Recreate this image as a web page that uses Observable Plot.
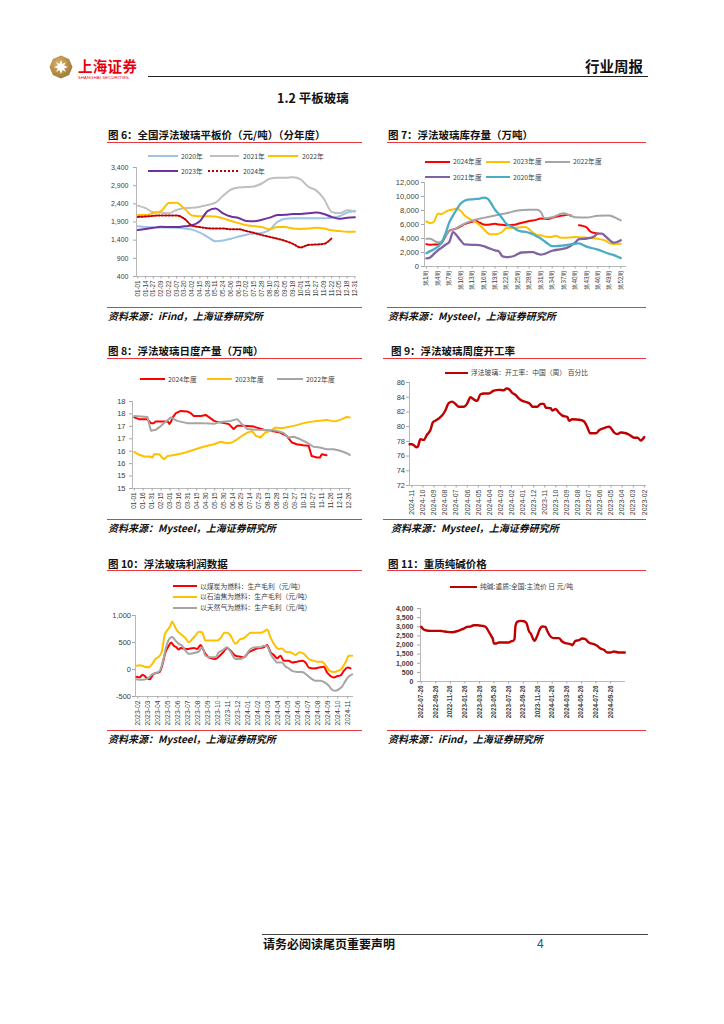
<!DOCTYPE html>
<html><head><meta charset="utf-8">
<script src="https://cdn.jsdelivr.net/npm/d3@7"></script>
<script src="https://cdn.jsdelivr.net/npm/@observablehq/plot@0.6"></script>
<style>
body{margin:0;background:#fff;}
#page{position:relative;width:724px;height:1024px;overflow:hidden;background:#fff;font-family:"Noto Sans CJK SC","Noto Sans",sans-serif;}
.a{position:absolute;white-space:nowrap;}
.title{font-size:10.5px;font-weight:700;color:#111;}
.src{font-size:10px;font-weight:700;font-style:italic;color:#111;}
.lg{font-size:6.8px;color:#404040;}
.c11 text{font-weight:700;}
svg{overflow:visible;}
</style></head>
<body><div id="page"></div>
<script>
// ---------- DATA ----------
// Chart 6: flat glass price by year (元/吨), x = label index
const labels6 = ["01-01","01-14","01-27","02-09","02-22","03-07","03-20","04-02","04-15","04-28","05-11","05-24","06-06","06-19","07-02","07-15","07-28","08-10","08-23","09-05","09-18","10-01","10-14","10-27","11-09","11-22","12-05","12-18","12-31"];
const price2020 = [1780,1760,1750,1750,1750,1740,1720,1690,1610,1490,1370,1390,1440,1500,1550,1580,1600,1680,1900,1990,2000,2000,2000,2000,2000,2020,2060,2160,2210];
const price2021 = [2350,2280,2170,2160,2140,2230,2280,2290,2320,2370,2430,2620,2790,2850,2860,2880,2960,3090,3120,3120,3130,3070,2870,2770,2540,2180,2140,2220,2180];
const price2022 = [2090,2090,2150,2200,2420,2430,2270,2080,2060,2060,2050,2000,1930,1870,1810,1790,1760,1700,1760,1760,1720,1710,1720,1740,1720,1670,1650,1630,1630];
const price2023 = [1680,1710,1740,1770,1760,1760,1780,1810,1920,2200,2270,2140,2050,2010,1930,1920,1960,2020,2090,2100,2120,2120,2140,2160,2120,2040,1990,2020,2030];
const price2024 = [2040,2050,2070,2080,2080,2080,1990,1800,1760,1730,1720,1720,1700,1700,1650,1600,1540,1490,1440,1380,1300,1200,1270,1280,1300,1450,null,null,null];
const yTicks6 = [400,900,1400,1900,2400,2900,3400];

// Chart 7: inventory (万吨) by week, [week, value]
const weekTicks7 = [1,4,7,10,13,16,19,22,25,28,31,34,37,40,43,46,49,52];
const inv2024 = [[1,3200],[2,3100],[3,3150],[4,3150],[5,3400],[6,4300],[7,5100],[8,5300],[9,5450],[10,5750],[11,6050],[12,6250],[13,6400],[14,6500],[15,6250],[16,6000],[17,5950],[18,6050],[19,6100],[20,6000],[21,5950],[22,5900],[24,5950],[25,6100],[28,6500],[30,6700],[31,6850],[33,6800],[34,6950],[36,7200],[37,7300],[38,7400],[39,7250],[40,null],[41,5900],[42,5800],[43,5600],[44,5000],[45,4800],[46,4700]];
const inv2023 = [[1,6450],[2,6200],[3,6400],[4,7550],[5,7500],[6,7800],[7,8050],[8,8150],[9,8300],[10,7950],[11,7300],[12,6900],[13,6600],[14,6300],[15,5900],[16,5400],[17,4800],[18,4600],[19,4600],[20,4700],[21,5000],[22,5500],[24,5500],[25,5550],[27,5650],[28,5300],[29,4800],[30,4500],[31,4450],[32,4300],[33,4200],[34,4250],[35,4400],[36,4150],[37,4100],[40,4200],[43,4100],[46,3950],[48,3700],[49,3350],[50,3200],[52,3250]];
const inv2022 = [[1,3950],[2,3950],[3,3700],[4,3450],[5,3600],[6,4400],[7,5100],[8,5250],[10,5850],[13,6550],[16,6950],[19,7300],[22,7600],[25,8000],[28,8100],[30,8100],[31,7800],[32,6900],[34,7050],[37,7600],[38,7450],[40,7050],[43,7000],[46,7250],[49,7300],[50,7100],[52,6600]];
const inv2021 = [[1,1150],[2,1300],[3,1800],[4,2300],[5,2700],[6,3100],[7,3500],[8,4900],[9,4400],[10,3700],[11,3150],[13,3100],[14,3100],[16,2900],[17,2700],[18,2500],[19,2300],[20,2150],[21,1450],[22,1350],[24,1500],[25,1800],[26,2000],[28,2050],[29,2050],[30,1850],[31,1700],[32,1800],[34,2250],[36,2450],[37,2550],[38,2700],[40,3400],[41,3900],[43,4000],[45,4300],[46,4700],[47,4700],[48,4300],[49,3800],[50,3400],[51,3500],[52,3750]];
const inv2020 = [[1,1900],[2,2200],[3,2450],[4,2850],[5,3400],[6,4700],[7,6300],[8,7300],[9,8200],[10,9000],[11,9400],[12,9550],[13,9600],[14,9650],[15,9700],[16,9850],[17,9700],[18,9000],[19,8100],[20,7500],[21,6800],[22,6100],[23,5800],[24,5500],[25,5150],[26,5000],[27,4950],[28,4800],[29,4600],[30,4300],[31,4000],[32,3600],[33,3200],[34,2900],[35,2900],[37,3000],[40,3250],[41,3300],[43,2850],[46,2400],[48,2000],[49,1800],[50,1650],[52,1200]];
const yTicks7 = [0,2000,4000,6000,8000,10000,12000];

// Chart 8: daily output (万吨), [day of year, value]
const labels8 = ["01-01","01-16","01-31","02-15","03-01","03-16","03-31","04-15","04-30","05-15","05-30","06-14","06-29","07-14","07-29","08-13","08-28","09-12","09-27","10-12","10-27","11-11","11-26","12-11","12-26"];
const prod2024 = [[0,17.36],[8,17.29],[22,17.29],[28,17.13],[33,17.13],[36,17.2],[56,17.2],[59,17.1],[62,17.2],[64,17.34],[70,17.53],[78,17.62],[89,17.6],[95,17.53],[100,17.42],[112,17.42],[120,17.46],[125,17.38],[134,17.22],[139,17.18],[151,17.13],[159,17.09],[167,16.89],[173,17.02],[184,17.02],[201,16.99],[206,16.95],[215,16.89],[223,16.82],[234,16.8],[245,16.75],[256,16.62],[265,16.35],[273,16.28],[284,16.24],[293,16.22],[298,15.81],[307,15.75],[312,15.75],[315,15.88],[323,15.84]];
const prod2023 = [[0,15.97],[6,15.88],[17,15.79],[25,15.79],[31,15.75],[33,15.88],[42,15.88],[45,15.79],[50,15.68],[56,15.81],[67,15.85],[81,15.92],[89,15.97],[100,16.06],[112,16.15],[123,16.22],[134,16.28],[145,16.38],[156,16.32],[164,16.35],[173,16.48],[181,16.62],[190,16.75],[198,16.82],[204,16.62],[212,16.55],[220,16.75],[229,16.82],[237,16.95],[245,16.92],[254,16.95],[262,16.99],[273,17.05],[284,17.13],[296,17.18],[307,17.22],[324,17.26],[335,17.2],[340,17.22],[349,17.29],[357,17.38],[362,17.36]];
const prod2022 = [[0,17.42],[22,17.38],[28,16.82],[36,16.86],[45,17.02],[61,17.36],[72,17.22],[89,17.13],[112,17.13],[134,17.1],[145,17.18],[162,17.22],[173,17.29],[181,17.09],[190,16.89],[206,16.86],[223,16.85],[240,16.82],[251,16.73],[259,16.55],[268,16.58],[279,16.48],[290,16.35],[301,16.18],[312,16.15],[323,16.08],[335,16.08],[346,16.02],[357,15.92],[362,15.85]];
const yTicks8 = [14.5,15,15.5,16,16.5,17,17.5,18];

// Chart 9: operating rate (%), [months back from 2024-11, value]
const labels9 = ["2024-11","2024-10","2024-09","2024-08","2024-07","2024-06","2024-05","2024-04","2024-03","2024-02","2024-01","2023-12","2023-11","2023-10","2023-09","2023-08","2023-07","2023-06","2023-05","2023-04","2023-03","2023-02"];
const rate = [[-0.21,77.6],[0,77.6],[0.15,77.5],[0.39,77.2],[0.54,77.3],[0.76,78.3],[1.06,78.2],[1.36,78.9],[1.66,79.5],[1.9,80.6],[2.11,80.8],[2.42,81.1],[2.72,81.5],[3.02,82.2],[3.32,83.2],[3.63,83.4],[3.93,83.1],[4.23,82.7],[4.68,82.7],[4.98,83.1],[5.29,84.0],[5.59,83.7],[5.89,83.5],[6.19,84.4],[6.5,84.5],[6.95,84.5],[7.4,84.9],[7.85,85.0],[8.31,84.95],[8.55,85.2],[8.76,85.1],[9.06,84.6],[9.37,84.3],[9.67,83.8],[9.97,83.5],[10.42,83.3],[10.73,83.0],[10.88,82.7],[11.33,82.7],[11.63,83.1],[11.93,83.1],[12.08,82.6],[12.54,82.5],[12.69,82.2],[12.99,82.4],[13.29,81.9],[13.6,81.5],[14.05,81.3],[14.2,80.8],[14.5,81.0],[15.26,80.9],[15.56,80.7],[15.86,79.9],[16.1,79.1],[16.62,79.1],[16.92,79.5],[17.37,79.8],[17.82,80.0],[17.98,79.8],[18.28,79.2],[18.58,79.0],[18.88,79.2],[19.34,79.1],[19.64,78.9],[20.09,78.5],[20.39,78.5],[20.69,78.1],[20.85,78.3],[21.0,78.6]];
const yTicks9 = [72,74,76,78,80,82,84,86];

// Chart 10: gross profit (元/吨), [months since 2023-02, value]
const labels10 = ["2023-02","2023-03","2023-04","2023-05","2023-06","2023-07","2023-08","2023-09","2023-10","2023-11","2023-12","2024-01","2024-02","2024-03","2024-04","2024-05","2024-06","2024-07","2024-08","2024-09","2024-10","2024-11"];
const profitCoal = [[-0.13,-135],[0.2,-145],[0.43,-100],[0.67,-115],[0.93,-165],[1.2,-180],[1.53,-90],[1.93,-60],[2.2,-45],[2.43,70],[2.77,320],[3.1,440],[3.33,500],[3.6,440],[3.87,410],[4.1,370],[4.27,400],[4.6,390],[4.93,380],[5.6,400],[5.93,380],[6.27,455],[6.43,410],[6.77,290],[7.27,210],[7.77,195],[8.27,270],[8.6,330],[8.93,400],[9.27,350],[9.77,255],[10.27,235],[10.6,225],[11.1,320],[11.43,350],[11.77,380],[12.27,400],[12.6,410],[12.93,455],[13.27,320],[13.6,270],[13.93,210],[14.27,255],[14.6,160],[15.1,160],[15.43,130],[15.93,145],[16.43,160],[16.77,130],[17.1,35],[17.6,20],[18.1,35],[18.6,50],[18.93,-55],[19.27,-120],[19.6,-150],[20,-120],[20.27,-110],[20.6,-25],[21,35],[21.27,20]];
const profitCoke = [[-0.13,70],[0.2,80],[0.6,55],[1.1,40],[1.43,100],[1.77,195],[2.2,255],[2.43,350],[2.67,630],[2.93,720],[3.27,815],[3.43,890],[3.67,810],[3.93,720],[4.27,660],[4.77,580],[5.1,505],[5.43,560],[5.77,630],[6.1,700],[6.43,690],[6.77,535],[7.27,535],[7.93,535],[8.27,580],[8.67,680],[8.93,680],[9.27,630],[9.77,475],[10.2,555],[10.6,580],[10.93,630],[11.27,680],[11.77,680],[12.27,680],[12.6,700],[12.93,740],[13.27,600],[13.6,475],[14.1,380],[14.43,390],[14.77,330],[15.27,320],[15.77,270],[16.2,320],[16.6,290],[17.1,195],[17.6,160],[17.93,145],[18.43,145],[18.77,80],[19.2,-25],[19.6,-45],[20,-25],[20.33,5],[20.77,130],[21.1,255],[21.43,255]];
const profitGas = [[-0.13,-180],[0.27,-190],[0.77,-180],[1.1,-150],[1.43,-90],[1.77,-70],[2.2,-25],[2.53,165],[2.83,410],[3.2,580],[3.43,600],[3.77,535],[4.1,475],[4.43,440],[4.77,350],[5.1,290],[5.6,305],[6.1,330],[6.43,410],[6.77,255],[7.27,225],[7.77,225],[8.1,320],[8.43,350],[8.93,410],[9.27,330],[9.77,195],[10.27,195],[10.77,255],[11.27,380],[11.77,410],[12.27,410],[12.6,440],[12.93,430],[13.27,290],[13.6,195],[13.93,130],[14.43,130],[14.77,55],[15.1,20],[15.43,-25],[15.93,-45],[16.43,-45],[16.93,-105],[17.43,-180],[17.77,-210],[18.27,-210],[18.67,-240],[19.1,-300],[19.43,-375],[19.77,-395],[20.1,-365],[20.43,-315],[20.77,-210],[21.1,-130],[21.43,-90]];
const yTicks10 = [-500,0,500,1000];

// Chart 11: heavy soda ash price (元/吨), [months since 2022-07-26, value]
const labels11 = ["2022-07-26","2022-09-26","2022-11-26","2023-01-26","2023-03-26","2023-05-26","2023-07-26","2023-09-26","2023-11-26","2024-01-26","2024-03-26","2024-05-26","2024-07-26","2024-09-26"];
const soda = [[0,2995],[0.27,2870],[0.59,2810],[1.28,2775],[2.43,2775],[2.88,2760],[3.57,2720],[4.26,2700],[4.94,2760],[5.4,2830],[5.86,2900],[6.32,2995],[6.77,3010],[7.23,3085],[7.69,3085],[8.38,3050],[8.83,2995],[9.29,2720],[9.61,2500],[9.84,2320],[9.98,2080],[10.21,2080],[10.66,2135],[11.35,2135],[12.04,2135],[12.27,2190],[12.63,2230],[12.81,2320],[12.95,3050],[13.18,3270],[13.64,3320],[14.1,3300],[14.46,3195],[14.78,2775],[15.1,2590],[15.38,2320],[15.56,2230],[15.93,2500],[16.29,2870],[16.61,3010],[17.07,2995],[17.3,2775],[17.76,2465],[18.22,2375],[18.9,2375],[19.36,2190],[19.82,2100],[20.5,2045],[20.73,1990],[21.19,2230],[21.65,2265],[22.11,2355],[22.56,2320],[23.02,2135],[23.71,2045],[24.16,1955],[24.62,1810],[25.08,1735],[25.54,1590],[26.0,1590],[26.45,1645],[27.14,1590],[27.96,1590]];
const yTicks11 = [0,500,1000,1500,2000,2500,3000,3500,4000];

// ---------- PAGE HELPERS ----------
const page = document.getElementById("page");
function el(cls, css, text) {
  const e = document.createElement("div");
  e.className = cls; Object.assign(e.style, css);
  if (text != null) e.textContent = text;
  page.appendChild(e); return e;
}
function T(x, yc, s, cls, lh = 12, extra = {}) {
  return el("a " + cls, Object.assign({left: x + "px", top: (yc - lh / 2) + "px", lineHeight: lh + "px"}, extra), s);
}
function H(x1, x2, y, color, w = 1) {
  el("a", {left: x1 + "px", top: (y - w / 2) + "px", width: (x2 - x1) + "px", height: w + "px", background: color});
}
function SW(x1, x2, y, color, dotted) {
  if (dotted) el("a", {left: x1 + "px", top: (y - 1) + "px", width: (x2 - x1) + "px", height: "0px", borderTop: "2px dotted " + color});
  else H(x1, x2, y, color, 2);
}
const fmtC = v => (v < 0 ? "-" : "") + d3.format(",")(Math.abs(v));
const AX = "#A6A6A6";

function chart(o) {
  const svg = Plot.plot({
    width: o.w, height: o.h,
    marginLeft: o.ml, marginRight: o.mr, marginTop: o.mt, marginBottom: o.mb,
    className: o.cls || "c",
    style: {fontFamily: "'Liberation Sans', Arial, sans-serif", fontSize: "7px", color: "#404040", background: "transparent", overflow: "visible"},
    x: {type: "linear", domain: o.xdom},
    y: {type: "linear", domain: o.ydom},
    marks: [
      Plot.ruleX([o.xdom[0]], {stroke: AX, strokeWidth: 0.8}),
      Plot.ruleY([o.ydom[0]], {stroke: AX, strokeWidth: 0.8}),
      Plot.axisY({ticks: o.yticks, tickFormat: o.yfmt, tickSize: 3, tickPadding: o.ypad, fontSize: o.yfs, label: null, stroke: AX}),
      Plot.axisX({ticks: o.xticks, tickFormat: o.xfmt, tickRotate: -90, tickSize: 2.5, tickPadding: 1.5, fontSize: o.xfs, label: null, stroke: AX}),
      ...o.marks
    ]
  });
  const box = el("a", {left: o.left + "px", top: o.top + "px"});
  box.appendChild(svg);
}
function panel(x1, x2, yTitle, title, yTop, yBot, yS, src, tx) {
  T(tx, yTitle, title, "title", 14);
  H(x1, x2, yTop, "#E8383D", 1);
  H(x1, x2, yBot, "#E8383D", 1);
  T(tx, yS, src, "src", 14);
}

// ---------- HEADER ----------
el("a", {left: "49px", top: "55px", width: "24px", height: "24px"}).innerHTML =
  '<svg width="24" height="24" viewBox="0 0 24 24"><defs><radialGradient id="g" cx="40%" cy="35%" r="70%"><stop offset="0" stop-color="#D8B46A"/><stop offset="1" stop-color="#9C7431"/></radialGradient></defs>' +
  '<polygon points="12,0.5 20.1,3.9 23.5,12 20.1,20.1 12,23.5 3.9,20.1 0.5,12 3.9,3.9" fill="url(#g)"/>' +
  '<polygon points="12,5 13.6,8.9 17,7 15.1,10.4 19,12 15.1,13.6 17,17 13.6,15.1 12,19 10.4,15.1 7,17 8.9,13.6 5,12 8.9,10.4 7,7 10.4,8.9" fill="#fff"/></svg>';
T(78, 66, "上海证券", "", 16, {fontSize: "14.5px", fontWeight: "700", color: "#E60012", letterSpacing: "0.3px"});
T(78, 77.8, "SHANGHAI SECURITIES", "", 5, {fontSize: "4.2px", color: "#E60012", letterSpacing: "0.15px", fontFamily: "'Liberation Sans',Arial,sans-serif"});
H(148, 648, 76.5, "#222", 1.8);
T(585, 66, "行业周报", "", 16, {fontSize: "14.5px", fontWeight: "700", color: "#111"});
T(277, 97.5, "1.2 平板玻璃", "", 14, {fontSize: "12.5px", fontWeight: "700", color: "#111"});

// ---------- FOOTER ----------
H(262, 648, 934, "#444", 1);
T(263, 943.5, "请务必阅读尾页重要声明", "", 14, {fontSize: "12px", fontWeight: "700", color: "#111"});
T(537, 943.5, "4", "", 14, {fontSize: "12px", color: "#2F4F7F", fontFamily: "'Liberation Sans',Arial,sans-serif"});

// ---------- CHART 6 ----------
panel(107, 362, 135, "图 6：全国浮法玻璃平板价（元/吨）（分年度）", 142, 307.5, 316, "资料来源：iFind，上海证券研究所", 108);
SW(148, 178, 156, "#9DC3E6"); T(181, 156, "2020年", "lg", 9);
SW(210, 239, 156, "#BFBFBF"); T(243, 156, "2021年", "lg", 9);
SW(268, 298, 156, "#FFC000"); T(302, 156, "2022年", "lg", 9);
SW(148, 178, 171, "#7030A0"); T(181, 171, "2023年", "lg", 9);
SW(208, 238, 171, "#C00000", true); T(243, 171, "2024年", "lg", 9);
const L6 = (arr, color, extra = {}) => Plot.line(arr, Object.assign({x: (d, i) => i, y: d => d, stroke: color, strokeWidth: 2, curve: "monotone-x"}, extra));
chart({left: 100, top: 160, w: 262, h: 150, ml: 36, mr: 7, mt: 7, mb: 34,
  xdom: [-0.17, 28.08], ydom: [400, 3400], yticks: yTicks6, yfmt: fmtC, ypad: 5, yfs: 7,
  xticks: d3.range(labels6.length), xfmt: i => labels6[i], xfs: 6.3,
  marks: [L6(price2020, "#9DC3E6"), L6(price2021, "#BFBFBF"), L6(price2022, "#FFC000"), L6(price2023, "#7030A0"),
          L6(price2024, "#C00000", {strokeDasharray: "1.6,1.8", strokeWidth: 2})]});

// ---------- CHART 7 ----------
panel(387, 646, 135, "图 7：浮法玻璃库存量（万吨）", 142, 307.5, 316, "资料来源：Mysteel，上海证券研究所", 388);
SW(425, 450, 161.7, "#FF0000"); T(453, 161.7, "2024年度", "lg", 9);
SW(486, 510, 161.7, "#FFC000"); T(513, 161.7, "2023年度", "lg", 9);
SW(545, 570, 161.7, "#A5A5A5"); T(573, 161.7, "2022年度", "lg", 9);
SW(425, 450, 177.3, "#8064A2"); T(453, 177.3, "2021年度", "lg", 9);
SW(486, 510, 177.3, "#4BACC6"); T(513, 177.3, "2020年度", "lg", 9);
const LP = (arr, color, w = 2, curve = "monotone-x") => Plot.line(arr, {x: d => d[0], y: d => d[1], stroke: color, strokeWidth: w, curve});
chart({left: 380, top: 175, w: 265, h: 121, ml: 44, mr: 19, mt: 7, mb: 30,
  xdom: [0.5, 53.5], ydom: [0, 12000], yticks: yTicks7, yfmt: fmtC, ypad: 2.5, yfs: 7.6,
  xticks: weekTicks7, xfmt: w => "第" + w + "周", xfs: 6.3,
  marks: [LP(inv2024, "#FF0000"), LP(inv2023, "#FFC000"), LP(inv2022, "#A5A5A5"), LP(inv2021, "#8064A2", 2.3), LP(inv2020, "#4BACC6", 2.3)]});

// ---------- CHART 8 ----------
panel(107, 362, 351, "图 8：浮法玻璃日度产量（万吨）", 358, 519, 527.5, "资料来源：Mysteel，上海证券研究所", 108);
SW(140, 165, 379.3, "#FF0000"); T(168, 379.3, "2024年度", "lg", 9);
SW(207, 232, 379.3, "#FFC000"); T(235, 379.3, "2023年度", "lg", 9);
SW(277, 303, 379.3, "#A5A5A5"); T(306, 379.3, "2022年度", "lg", 9);
chart({left: 100, top: 395, w: 262, h: 123, ml: 32, mr: 11, mt: 6, mb: 30,
  xdom: [-3, 365], ydom: [14.5, 18], yticks: yTicks8, yfmt: v => v.toFixed(0), ypad: 4, yfs: 7.5,
  xticks: labels8.map((d, i) => i * 15), xfmt: v => labels8[v / 15], xfs: 6.4,
  marks: [LP(prod2024, "#FF0000", 2, "linear"), LP(prod2023, "#FFC000", 2, "linear"), LP(prod2022, "#A5A5A5", 2, "linear")]});

// ---------- CHART 9 ----------
panel(383, 646, 351, "图 9：浮法玻璃周度开工率", 358, 519, 527.5, "资料来源：Mysteel，上海证券研究所", 391);
SW(445, 468, 372.7, "#C00000"); T(471, 372.7, "浮法玻璃：开工率：中国（周） 百分比", "lg", 9);
chart({left: 380, top: 376, w: 268, h: 142, ml: 29, mr: 2, mt: 6, mb: 33,
  xdom: [-0.22, 21.2], ydom: [72, 86], yticks: yTicks9, yfmt: v => v, ypad: 1.5, yfs: 7.5,
  xticks: d3.range(labels9.length), xfmt: i => labels9[i], xfs: 7,
  marks: [LP(rate, "#C00000", 2.4)]});

// ---------- CHART 10 ----------
panel(107, 362, 564, "图 10：浮法玻璃利润数据", 570, 730, 738.5, "资料来源：Mysteel，上海证券研究所", 108);
SW(173, 197, 586, "#FF0000"); T(200, 586, "以煤炭为燃料：生产毛利（元/吨）", "lg", 9);
SW(173, 197, 596.7, "#FFC000"); T(200, 596.7, "以石油焦为燃料：生产毛利（元/吨）", "lg", 9);
SW(173, 197, 607.7, "#A5A5A5"); T(200, 607.7, "以天然气为燃料：生产毛利（元/吨）", "lg", 9);
chart({left: 100, top: 608, w: 262, h: 120, ml: 35, mr: 9, mt: 7, mb: 32,
  xdom: [-0.23, 21.57], ydom: [-500, 1000], yticks: yTicks10, yfmt: fmtC, ypad: 1.5, yfs: 7.5,
  xticks: d3.range(labels10.length), xfmt: i => labels10[i], xfs: 6.8,
  marks: [LP(profitCoal, "#FF0000"), LP(profitCoke, "#FFC000"), LP(profitGas, "#A5A5A5")]});

// ---------- CHART 11 ----------
panel(387, 646, 564, "图 11：重质纯碱价格", 570, 730, 738.5, "资料来源：iFind，上海证券研究所", 388);
SW(450, 477, 586.7, "#C00000"); T(480, 586.7, "纯碱:重质:全国:主流价 日 元/吨", "lg", 9);
chart({left: 380, top: 602, w: 265, h: 124, ml: 40, mr: 20, mt: 6, mb: 45, cls: "c11",
  xdom: [-0.1, 28.06], ydom: [0, 4000], yticks: yTicks11, yfmt: fmtC, ypad: 4, yfs: 7,
  xticks: labels11.map((d, i) => i * 2), xfmt: v => labels11[v / 2], xfs: 6.4,
  marks: [LP(soda, "#C00000", 2.4)]});
</script>
</body></html>
